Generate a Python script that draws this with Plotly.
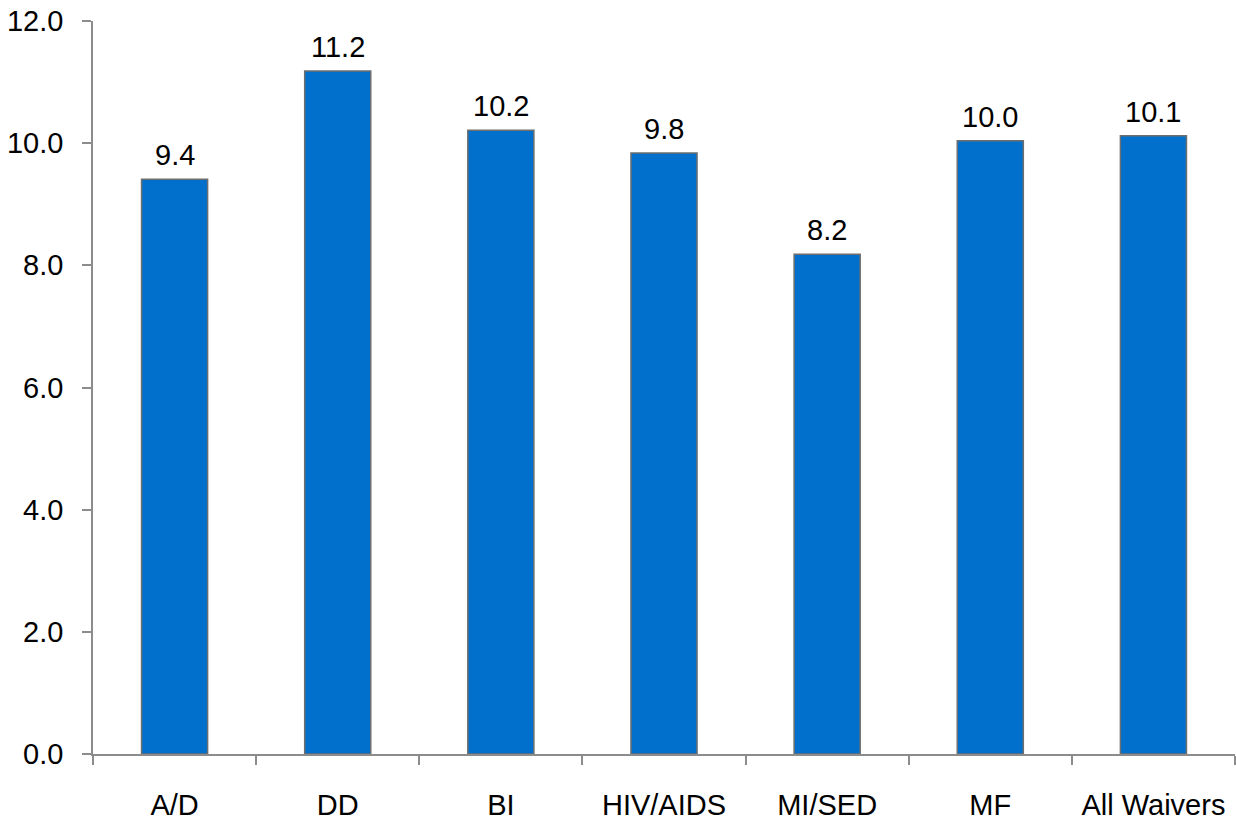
import plotly.graph_objects as go

categories = ["A/D", "DD", "BI", "HIV/AIDS", "MI/SED", "MF", "All Waivers"]
values = [9.41, 11.18, 10.21, 9.84, 8.18, 10.04, 10.12]
y_ticks = [0, 2, 4, 6, 8, 10, 12]

font_family = "Liberation Sans, Arial, sans-serif"
fsize = 29

fig = go.Figure(
    go.Bar(
        x=categories,
        y=values,
        width=0.405,
        marker=dict(color="#0070CC", line=dict(color="#6E6E6E", width=1.5)),
        cliponaxis=False,
    )
)

for c, v in zip(categories, values):
    fig.add_annotation(
        x=c, y=v, text=f"{v:.1f}", showarrow=False,
        yanchor="bottom", yshift=6,
        font=dict(family=font_family, size=fsize, color="#000000"),
    )

fig.update_layout(
    width=1236,
    height=821,
    margin=dict(l=93, r=1, t=21, b=67),
    paper_bgcolor="white",
    plot_bgcolor="white",
    showlegend=False,
    font=dict(family=font_family, size=fsize, color="#000000"),
)

fig.update_xaxes(
    type="category",
    automargin=False,
    showline=True,
    linecolor="#8C8C8C",
    linewidth=1.5,
    ticks="outside",
    tickson="boundaries",
    ticklen=9,
    tickcolor="#8C8C8C",
    tickwidth=1.5,
    showgrid=False,
    ticklabelstandoff=24,
    ticklabeloverflow="allow",
    tickfont=dict(family=font_family, size=fsize, color="#000000"),
)

fig.update_yaxes(
    range=[0, 12],
    automargin=False,
    tickvals=y_ticks,
    ticktext=[f"{t:.1f}" for t in y_ticks],
    showline=True,
    linecolor="#8C8C8C",
    linewidth=1.5,
    ticks="outside",
    ticklen=9,
    tickcolor="#8C8C8C",
    tickwidth=1.5,
    showgrid=False,
    zeroline=False,
    ticklabelstandoff=13,
    ticklabeloverflow="allow",
    tickfont=dict(family=font_family, size=fsize, color="#000000"),
)

fig.write_html(
    "out.html",
    config={"displayModeBar": False},
    post_script="document.body.style.margin='0';document.body.style.overflow='hidden';",
)
